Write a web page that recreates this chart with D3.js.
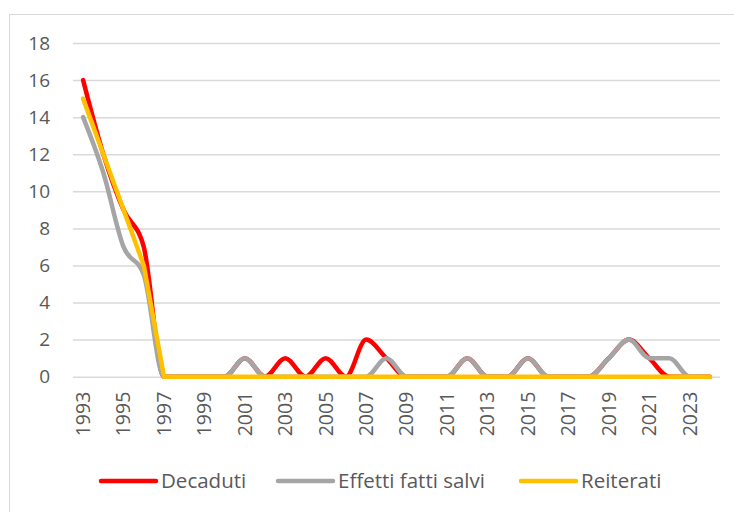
<!DOCTYPE html>
<html>
<head>
<meta charset="utf-8">
<script src="https://cdn.jsdelivr.net/npm/d3@7"></script>
<style>
  body { margin: 0; background: #fff; }
  svg { display: block; font-family: "Open Sans", sans-serif; }
</style>
</head>
<body>
<figure id="chart" style="margin:0"></figure>
<script>
// categories
const years = [1993, 1994, 1995, 1996, 1997, 1998, 1999, 2000, 2001, 2002, 2003,
  2004, 2005, 2006, 2007, 2008, 2009, 2010, 2011, 2012, 2013, 2014, 2015, 2016,
  2017, 2018, 2019, 2020, 2021, 2022, 2023, 2024];

// series
const decaduti = [16, 12, 9, 7, 0, 0, 0, 0, 1, 0, 1, 0, 1, 0, 2, 1, 0, 0, 0, 1, 0,
  0, 1, 0, 0, 0, 1, 2, 1, 0, 0, 0];
const effettiFattiSalvi = [14, 11, 7, 5.5, 0, 0, 0, 0, 1, 0, 0, 0, 0, 0, 0, 1, 0, 0,
  0, 1, 0, 0, 1, 0, 0, 0, 1, 2, 1, 1, 0, 0];
const reiterati = [15, 12, 9, 6, 0, 0, 0, 0, 0, 0, 0, 0, 0, 0, 0, 0, 0, 0, 0, 0, 0,
  0, 0, 0, 0, 0, 0, 0, 0, 0, 0, 0];

// tick labels
const yTicks = [0, 2, 4, 6, 8, 10, 12, 14, 16, 18];
const xTicks = [1993, 1995, 1997, 1999, 2001, 2003, 2005, 2007, 2009, 2011, 2013,
  2015, 2017, 2019, 2021, 2023];

// reiterati looks unsmoothed in the original (sharp corner at 1997)
const series = [
  { name: "Decaduti", values: decaduti, color: "#ff0000", curve: d3.curveMonotoneX },
  { name: "Effetti fatti salvi", values: effettiFattiSalvi, color: "#a5a5a5", curve: d3.curveMonotoneX },
  { name: "Reiterati", values: reiterati, color: "#ffc000", curve: d3.curveLinear }
];

const size = { width: 734, height: 512 };
const plot = { left: 73, right: 720, top: 43, bottom: 376.7 };

const svg = d3.select("figure#chart")
  .append("svg")
  .attr("width", size.width)
  .attr("height", size.height);

// chart border
svg.append("rect")
  .attr("x", 9.5).attr("y", 14.5)
  .attr("width", 740).attr("height", 520)
  .attr("fill", "none")
  .attr("stroke", "#d9d9d9");

const x = d3.scaleBand()
  .domain(years)
  .range([plot.left, plot.right]);
const cx = d => x(d) + x.bandwidth() / 2;

const y = d3.scaleLinear()
  .domain([0, 18])
  .range([plot.bottom, plot.top]);

// y axis + gridlines
svg.append("g")
  .attr("transform", "translate(" + plot.left + ",0)")
  .call(d3.axisLeft(y).tickValues(yTicks).tickSize(-(plot.right - plot.left)).tickPadding(23))
  .call(g => g.select(".domain").remove())
  .call(g => g.selectAll(".tick line").attr("stroke", "#d9d9d9").attr("stroke-width", 1.5))
  .call(g => g.selectAll(".tick text")
    .attr("fill", "#595959")
    .style("font-size", "19px")
    .style("font-family", "Open Sans"));

// x axis labels, rotated
svg.append("g")
  .attr("transform", "translate(0," + plot.bottom + ")")
  .call(d3.axisBottom(x).tickValues(xTicks).tickSize(0).tickFormat(d => d))
  .call(g => g.select(".domain").remove())
  .call(g => g.selectAll(".tick text")
    .attr("fill", "#595959")
    .style("font-size", "19.5px")
    .style("font-family", "Open Sans")
    .attr("text-anchor", "end")
    .attr("transform", "rotate(-90)")
    .attr("x", -15)
    .attr("y", 0)
    .attr("dy", "0.35em"));

svg.append("g")
  .selectAll("path")
  .data(series)
  .join("path")
  .attr("d", s => d3.line()
    .x((d, i) => cx(years[i]))
    .y(d => y(d))
    .curve(s.curve)(s.values))
  .attr("fill", "none")
  .attr("stroke", d => d.color)
  .attr("stroke-width", 4.5)
  .attr("stroke-linecap", "round")
  .attr("stroke-linejoin", "round");

// legend
const legendPos = [101, 278, 521];
const legend = svg.append("g")
  .selectAll("g")
  .data(series)
  .join("g")
  .attr("transform", (d, i) => "translate(" + legendPos[i] + ",481)");

legend.append("line")
  .attr("x1", 0).attr("x2", 55)
  .attr("stroke", d => d.color)
  .attr("stroke-width", 4.5)
  .attr("stroke-linecap", "round");

legend.append("text")
  .attr("x", 60)
  .attr("dy", "0.35em")
  .attr("fill", "#595959")
  .style("font-size", "20.5px")
  .text(d => d.name);
</script>
</body>
</html>
